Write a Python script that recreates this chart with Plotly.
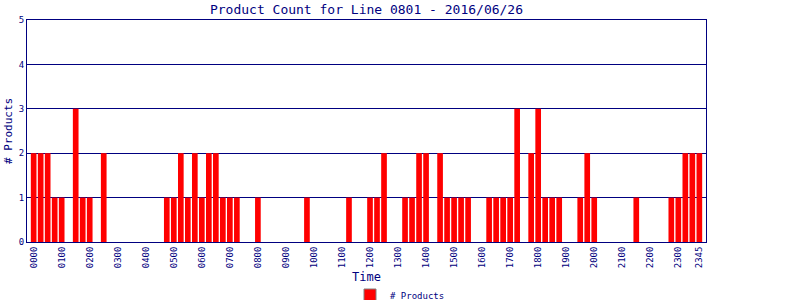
import plotly.graph_objects as go

# 15-minute time slots for the day
times = [f"{h:02d}{m:02d}" for h in range(24) for m in (0, 15, 30, 45)]

counts = [
    2, 2, 2, 1, 1, 0, 3, 1, 1, 0, 2, 0,      # 0000-0245
    0, 0, 0, 0, 0, 0, 0, 1, 1, 2, 1, 2,      # 0300-0545
    1, 2, 2, 1, 1, 1, 0, 0, 1, 0, 0, 0,      # 0600-0845
    0, 0, 0, 1, 0, 0, 0, 0, 0, 1, 0, 0,      # 0900-1145
    1, 1, 2, 0, 0, 1, 1, 2, 2, 0, 2, 1,      # 1200-1445
    1, 1, 1, 0, 0, 1, 1, 1, 1, 3, 0, 2,      # 1500-1745
    3, 1, 1, 1, 0, 0, 1, 2, 1, 0, 0, 0,      # 1800-2045
    0, 0, 1, 0, 0, 0, 0, 1, 1, 2, 2, 2,      # 2100-2345
]

tick_labels = [f"{h:02d}00" for h in range(24)] + ["2345"]

title_text = "Product Count for Line 0801 - 2016/06/26"
series_name = "# Products"
x_title = "Time"

navy = "#000080"
font_family = "DejaVu Sans Mono"

# plot area in pixels
L, R, T, B = 27, 706, 20, 242
W, H = R - L, B - T

fig = go.Figure()
fig.add_trace(go.Bar(
    x=times, y=counts, marker=dict(color="#ff0000", line=dict(width=0)),
    showlegend=False, name=series_name,
))
fig.add_trace(go.Bar(
    x=[None], y=[None], name=series_name,
    marker=dict(color="#ff0000", line=dict(color="#808080", width=1)),
    showlegend=True,
))

fig.update_layout(
    width=800, height=300,
    margin=dict(l=L, r=800 - R, t=T, b=300 - B, autoexpand=False),
    paper_bgcolor="white", plot_bgcolor="white",
    bargap=0.19,
    font=dict(family=font_family, color=navy, size=10),
    title=dict(text=title_text, x=0.5, xref="paper", xanchor="center",
               y=0.97, yref="container", yanchor="middle",
               font=dict(family=font_family, size=13, color=navy)),
    legend=dict(orientation="h", xref="container", yref="paper",
                x=0.5, xanchor="center", y=(B - 295) / H, yanchor="middle",
                font=dict(family=font_family, size=9, color=navy),
                itemwidth=30, bgcolor="rgba(0,0,0,0)"),
    xaxis=dict(
        type="category", categoryorder="array", categoryarray=times,
        range=[-0.95, 95.95], automargin=False,
        tickmode="array", tickvals=tick_labels, ticktext=tick_labels,
        tickangle=-90, ticks="", showgrid=False,
        showline=True, linecolor=navy, linewidth=1, mirror=True,
        tickfont=dict(family=font_family, size=9, color=navy),
    ),
    yaxis=dict(
        range=[0, 5], tickvals=[0, 1, 2, 3, 4, 5], ticks="",
        automargin=False,
        showgrid=True, gridcolor=navy, gridwidth=1,
        zeroline=False,
        showline=True, linecolor=navy, linewidth=1, mirror=True,
        tickfont=dict(family=font_family, size=9, color=navy),
    ),
    annotations=[
        dict(text=x_title, xref="paper", yref="paper", x=0.5, y=(B - 277) / H,
             xanchor="center", yanchor="middle", showarrow=False,
             font=dict(family=font_family, size=12, color=navy)),
        dict(text=series_name, xref="paper", yref="paper", x=(8 - L) / W, y=0.5,
             xanchor="center", yanchor="middle", showarrow=False, textangle=-90,
             font=dict(family=font_family, size=11, color=navy)),
    ],
)

fig.write_html("out.html")
